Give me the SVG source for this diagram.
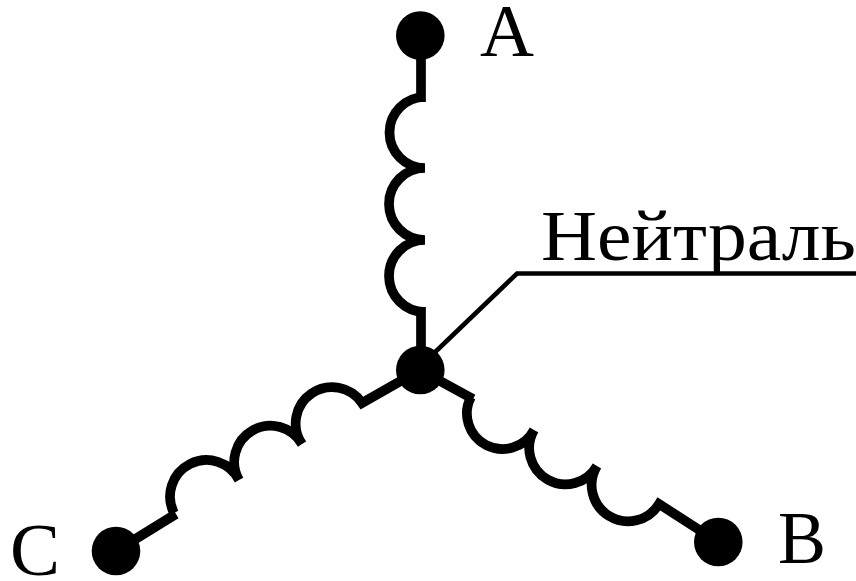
<svg xmlns="http://www.w3.org/2000/svg" width="856" height="581" viewBox="0 0 856 581">
<style>
.w{fill:none;stroke:#000;stroke-width:9.7;stroke-linejoin:miter}
.t{font-family:"Liberation Serif","Times New Roman",serif;fill:#000}
.d{fill:#000}
</style>
<rect width="856" height="581" fill="#fff"/>
<g id="connectors">
<path class="w" d="M421 35V102M425 97A1 1 0 0 0 425 168A1 1 0 0 0 425 240A1 1 0 0 0 425 312M421 307V370"/>
<path class="w" d="M420 370L473 399M471 397A1 1 0 0 0 534 430M534 430A1 1 0 0 0 597 466M597 466A1 1 0 0 0 659 504L718 542"/>
<path class="w" d="M116 551L176 514M174 513A1 1 0 0 1 239 480M239 480A1 1 0 0 1 302 444M302 444A1 1 0 0 1 362 403L420 370"/>
<path fill="none" stroke="#000" stroke-width="4.6" d="M430 357L517 273.5H856"/>
</g>
<g id="node-A"><circle class="d" cx="420.3" cy="35.5" r="24.3"/><text class="t" font-size="74" x="480" y="56" textLength="54" lengthAdjust="spacingAndGlyphs">A</text></g>
<g id="node-N"><circle class="d" cx="420.3" cy="370" r="24.3"/><text class="t" font-size="72" x="541" y="260" textLength="315" lengthAdjust="spacingAndGlyphs">Нейтраль</text></g>
<g id="node-B"><circle class="d" cx="718.3" cy="542" r="24.3"/><text class="t" font-size="73" x="778" y="563" textLength="48" lengthAdjust="spacingAndGlyphs">B</text></g>
<g id="node-C"><circle class="d" cx="116" cy="551" r="24.3"/><text class="t" font-size="74" x="10" y="575" textLength="50" lengthAdjust="spacingAndGlyphs">C</text></g>
</svg>
